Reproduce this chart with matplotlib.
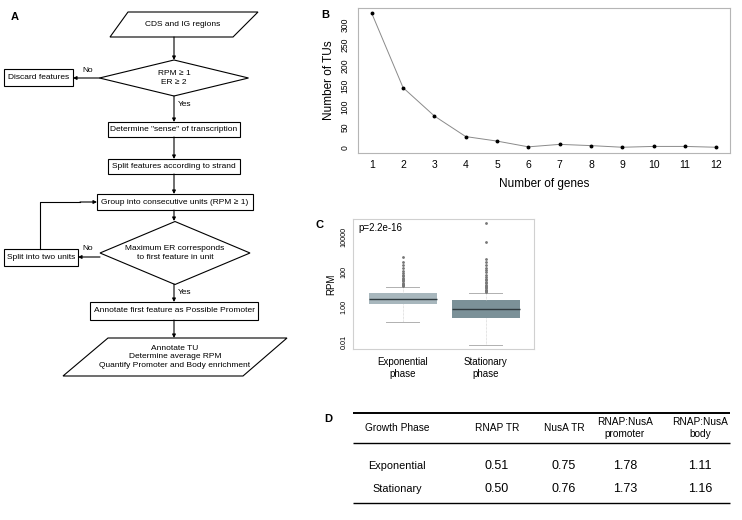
import numpy as np
import matplotlib
matplotlib.use('Agg')
import matplotlib.pyplot as plt
from matplotlib.patches import Polygon, Rectangle

plt.rcParams['font.family'] = ['Liberation Sans', 'DejaVu Sans']

W, H = 742, 520

# panel B data
n_genes = list(range(1, 13))
n_tus = [327, 146, 77, 27, 16, 2, 8, 5, 1, 3, 3, 1]

# panel C data (RPM, log scale)
phases = ['Exponential\nphase', 'Stationary\nphase']
rpm_q1 = [1.5, 0.23]
rpm_med = [2.9, 0.77]
rpm_q3 = [6.3, 2.5]
rpm_lo = [0.14, 0.0067]
rpm_hi = [14, 6.3]
rpm_out = [[15, 17, 19, 22, 25, 29, 34, 40, 48, 58, 70, 90, 120, 170, 250, 370, 720],
           [7, 8, 9, 10, 12, 14, 16, 19, 23, 28, 34, 42, 55, 70, 95, 130, 180, 260, 380, 520, 5000, 65000]]
p_text = 'p=2.2e-16'

# panel D data
tab_cols = ['Growth Phase', 'RNAP TR', 'NusA TR', 'RNAP:NusA\npromoter', 'RNAP:NusA\nbody']
tab_rows = ['Exponential', 'Stationary']
rnap_tr = [0.51, 0.50]
nusa_tr = [0.75, 0.76]
ratio_prom = [1.78, 1.73]
ratio_body = [1.11, 1.16]

# flowchart texts
fc_start = 'CDS and IG regions'
fc_cond1 = 'RPM \u2265 1\nER \u2265 2'
fc_discard = 'Discard features'
fc_steps = ['Determine "sense" of transcription',
            'Split features according to strand',
            'Group into consecutive units (RPM \u2265 1)']
fc_cond2 = 'Maximum ER corresponds\nto first feature in unit'
fc_split = 'Split into two units'
fc_annot = 'Annotate first feature as Possible Promoter'
fc_end = 'Annotate TU\nDetermine average RPM\nQuantify Promoter and Body enrichment'


def px_axes(fig, x0, y0, x1, y1):
    return fig.add_axes([x0 / W, 1 - y1 / H, (x1 - x0) / W, (y1 - y0) / H])


fig = plt.figure(figsize=(W / 100, H / 100), dpi=100)
ax0 = fig.add_axes([0, 0, 1, 1])
ax0.set_xlim(0, W)
ax0.set_ylim(H, 0)
ax0.axis('off')

fs = 6
lw = 0.8


def box(x0, y0, x1, y1, text):
    ax0.add_patch(Rectangle((x0, y0), x1 - x0, y1 - y0, fc='white', ec='black', lw=lw))
    ax0.text((x0 + x1) / 2, (y0 + y1) / 2, text, ha='center', va='center', fontsize=fs)


def diamond(cx, cy, w, h, text):
    pts = [(cx - w / 2, cy), (cx, cy - h / 2), (cx + w / 2, cy), (cx, cy + h / 2)]
    ax0.add_patch(Polygon(pts, closed=True, fc='white', ec='black', lw=lw))
    ax0.text(cx, cy, text, ha='center', va='center', fontsize=fs, linespacing=1.3)


def para(xt0, xt1, xb0, xb1, y0, y1, text, cx):
    pts = [(xt0, y0), (xt1, y0), (xb1, y1), (xb0, y1)]
    ax0.add_patch(Polygon(pts, closed=True, fc='white', ec='black', lw=lw))
    ax0.text(cx, (y0 + y1) / 2, text, ha='center', va='center', fontsize=fs, linespacing=1.35)


def arrow(x0, y0, x1, y1):
    ax0.annotate('', xy=(x1, y1), xytext=(x0, y0),
                 arrowprops=dict(arrowstyle='-|>', lw=lw, color='black',
                                 mutation_scale=5, shrinkA=0, shrinkB=0))


cx = 174
para(128, 258, 110, 233, 12, 37, fc_start, 183)
arrow(cx, 37, cx, 60)
diamond(cx, 78, 149, 36, fc_cond1)
arrow(100, 78, 73, 78)
box(4, 69, 73, 86, fc_discard)
ax0.text(88, 71, 'No', ha='center', va='center', fontsize=fs)
ax0.text(178, 105, 'Yes', ha='left', va='center', fontsize=fs)
arrow(cx, 96, cx, 122)
box(108, 122, 240, 137, fc_steps[0])
arrow(cx, 137, cx, 159)
box(108, 159, 240, 174, fc_steps[1])
arrow(cx, 174, cx, 194)
box(97, 194, 253, 210, fc_steps[2])
arrow(cx, 210, cx, 221)
diamond(175, 253, 150, 63, fc_cond2)
ax0.plot([40, 40, 80], [249, 202, 202], color='black', lw=lw)
arrow(80, 202, 97, 202)
arrow(100, 257, 78, 257)
box(4, 249, 78, 266, fc_split)
ax0.text(88, 249, 'No', ha='center', va='center', fontsize=fs)
ax0.text(178, 292, 'Yes', ha='left', va='center', fontsize=fs)
arrow(cx, 284, cx, 302)
box(90, 302, 258, 320, fc_annot)
arrow(cx, 320, cx, 338)
para(108, 287, 63, 243, 338, 376, fc_end, 175)

# panel letters
for lab, (lx, ly) in zip('ABCD', [(15, 17), (325, 15), (320, 225), (328, 419)]):
    ax0.text(lx, ly, lab, ha='center', va='center', fontsize=8, fontweight='bold')

# panel D table
col_x = [397, 497, 564, 625, 700]
ax0.hlines([413], 353, 730, color='black', lw=1.4)
ax0.hlines([443, 503], 353, 730, color='black', lw=1.0)
for x, t in zip(col_x, tab_cols):
    ax0.text(x, 428, t, ha='center', va='center', fontsize=7.3, linespacing=1.15)
row_y = [466, 489]
for i, r in enumerate(tab_rows):
    ax0.text(col_x[0], row_y[i], r, ha='center', va='center', fontsize=7.8)
    vals = [rnap_tr[i], nusa_tr[i], ratio_prom[i], ratio_body[i]]
    for x, v in zip(col_x[1:], vals):
        ax0.text(x, row_y[i], f'{v:.2f}', ha='center', va='center', fontsize=9)

spine_col = '#b5b5b5'

# panel B
axb = px_axes(fig, 358, 8, 730, 153)
axb.plot(n_genes, n_tus, color='#8a8a8a', lw=0.7, marker='o', ms=1.8,
         mfc='black', mec='black')
axb.set_xlim(0.56, 12.44)
axb.set_ylim(-13, 340)
axb.set_xticks(n_genes)
axb.set_yticks(range(0, 301, 50))
axb.set_yticklabels([str(v) for v in range(0, 301, 50)], rotation=90, va='center')
axb.tick_params(axis='x', length=0, labelsize=7.5, pad=5)
axb.tick_params(axis='y', length=0, labelsize=6.2, pad=6)
axb.set_xlabel('Number of genes', fontsize=8.5, labelpad=6)
axb.set_ylabel('Number of TUs', fontsize=8.5, labelpad=4)
for s in axb.spines.values():
    s.set_color(spine_col)
    s.set_linewidth(0.8)

# panel C
axc = px_axes(fig, 353, 219, 534, 349)
stats = []
for i in range(2):
    stats.append(dict(med=rpm_med[i], q1=rpm_q1[i], q3=rpm_q3[i],
                      whislo=rpm_lo[i], whishi=rpm_hi[i], fliers=rpm_out[i]))
bp = axc.bxp(stats, positions=[1, 2], widths=0.82, capwidths=0.4, patch_artist=True,
             boxprops=dict(lw=0),
             whiskerprops=dict(color='#c8c8c8', lw=0.5, ls=(0, (1, 1))),
             capprops=dict(color='#b0b0b0', lw=0.7),
             medianprops=dict(color='#2f3a3e', lw=1.0),
             flierprops=dict(marker='o', ms=1.0, mfc='#777777', mec='#777777'))
for patch, c in zip(bp['boxes'], ['#a8b7bd', '#7b9198']):
    patch.set_facecolor(c)
axc.set_yscale('log')
axc.set_ylim(10 ** -2.4, 10 ** 5.03)
axc.set_xlim(0.4, 2.58)
axc.set_yticks([0.01, 1, 100, 10000])
axc.set_yticklabels(['0.01', '1.00', '100', '10000'], rotation=90, va='center')
axc.minorticks_off()
axc.set_xticks([1, 2])
axc.set_xticklabels(phases)
axc.tick_params(axis='x', length=0, labelsize=7, pad=6)
axc.tick_params(axis='y', length=0, labelsize=5.2, pad=4)
axc.set_ylabel('RPM', fontsize=7, labelpad=3)
axc.text(0.03, 0.93, p_text, transform=axc.transAxes, fontsize=7, ha='left', va='center')
for s in axc.spines.values():
    s.set_color('#d0d0d0')
    s.set_linewidth(0.8)

fig.savefig('out.png', dpi=100)
